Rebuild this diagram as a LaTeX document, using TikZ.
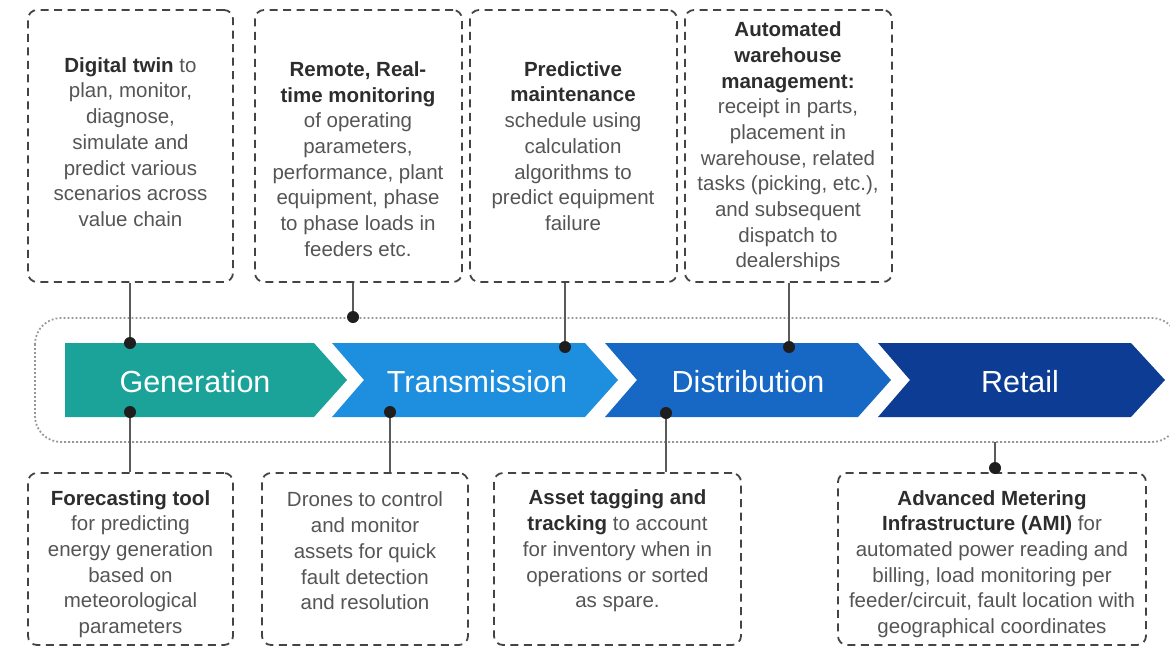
\documentclass[tikz,border=0pt]{standalone}
\usepackage{fontspec}
\setmainfont{Liberation Sans}
\definecolor{genc}{RGB}{27,163,154}
\definecolor{trac}{RGB}{30,142,222}
\definecolor{disc}{RGB}{22,104,196}
\definecolor{retc}{RGB}{12,60,148}
\definecolor{boxc}{RGB}{68,68,68}
\definecolor{bodyc}{RGB}{85,85,85}
\definecolor{boldc}{RGB}{45,45,45}
\definecolor{outc}{RGB}{150,150,150}
\definecolor{dotc}{RGB}{30,30,30}
\definecolor{linec}{RGB}{90,90,90}
\newcommand\hb[1]{\textcolor{boldc}{\textbf{#1}}}
\tikzset{
  dbox/.style={draw=boxc, line width=1.8pt, dash pattern=on 8pt off 5.5pt, rounded corners=9pt, inner sep=0pt},
  txt/.style={align=center, text=bodyc, inner sep=0pt, font=\fontsize{20.5}{25.7}\selectfont},
  outer/.style={draw=outc, line width=1.8pt, dash pattern=on 1.8pt off 2.2pt, rounded corners=26pt},
  chevlabel/.style={text=white, inner sep=0pt, font=\fontsize{30.5}{36}\selectfont},
  dot/.style={circle, fill=dotc, minimum size=12pt, inner sep=0pt},
  conn/.style={draw=linec, line width=1.4pt},
}
\begin{document}
\begin{tikzpicture}[x=1pt,y=-1pt]
\useasboundingbox (0,0) rectangle (1170,648);
% outer dotted band
\draw[outer] (35,318) rectangle (1178,442);
% chevrons
\fill[genc] (65,343) -- (314,343) -- (347,380) -- (314,417) -- (65,417) -- cycle;
\fill[trac] (332,343) -- (585,343) -- (618,380) -- (585,417) -- (332,417) -- (364,380) -- cycle;
\fill[disc] (605,343) -- (858,343) -- (891,380) -- (858,417) -- (605,417) -- (637,380) -- cycle;
\fill[retc] (878,343) -- (1131,343) -- (1165,380) -- (1131,417) -- (878,417) -- (910,380) -- cycle;
\node[chevlabel] (gen) at (195,382) {Generation};
\node[chevlabel] (tra) at (477,382) {Transmission};
\node[chevlabel] (dis) at (748,382) {Distribution};
\node[chevlabel] (ret) at (1020,382) {Retail};
% top boxes
\node[dbox, minimum width=205pt, minimum height=272pt] (T1) at (130.5,146) {};
\node[dbox, minimum width=207pt, minimum height=272pt] (T2) at (358.5,146) {};
\node[dbox, minimum width=207pt, minimum height=272pt] (T3) at (573.5,146) {};
\node[dbox, minimum width=207pt, minimum height=272pt] (T4) at (788.5,146) {};
% bottom boxes
\node[dbox, minimum width=205pt, minimum height=172pt] (B1) at (130.5,559) {};
\node[dbox, minimum width=206pt, minimum height=172pt] (B2) at (365,559) {};
\node[dbox, minimum width=247pt, minimum height=172pt] (B3) at (617.5,559) {};
\node[dbox, minimum width=308pt, minimum height=172pt] (B4) at (992,559) {};
% texts
\node[txt] (t1) at (130.5,142) {\hb{Digital twin} to\\plan, monitor,\\diagnose,\\simulate and\\predict various\\scenarios across\\value chain};
\node[txt] (t2) at (358,159) {\hb{Remote, Real-}\\\hb{time monitoring}\\of operating\\parameters,\\performance, plant\\equipment, phase\\to phase loads in\\feeders etc.};
\node[txt] (t3) at (573,146) {\hb{Predictive}\\\hb{maintenance}\\schedule using\\calculation\\algorithms to\\predict equipment\\failure};
\node[txt] (t4) at (788,147) {\hb{Automated}\\\hb{warehouse}\\\hb{management:}\\receipt in parts,\\placement in\\warehouse, related\\tasks (picking, etc.),\\and subsequent\\dispatch to\\dealerships};
\node[txt] (b1) at (130.5,564) {\hb{Forecasting tool}\\for predicting\\energy generation\\based on\\meteorological\\parameters};
\node[txt] (b2) at (365,551) {Drones to control\\and monitor\\assets for quick\\fault detection\\and resolution};
\node[txt] (b3) at (617.5,551) {\hb{Asset tagging and}\\\hb{tracking} to account\\for inventory when in\\operations or sorted\\as spare.};
\node[txt] (b4) at (992,564) {\hb{Advanced Metering}\\\hb{Infrastructure (AMI)} for\\automated power reading and\\billing, load monitoring per\\feeder/circuit, fault location with\\geographical coordinates};
% dots
\node[dot] (d1) at (130,343) {};
\node[dot] (d2) at (353,317) {};
\node[dot] (d3) at (565,347) {};
\node[dot] (d4) at (789,347) {};
\node[dot] (d5) at (130,412) {};
\node[dot] (d6) at (390,412) {};
\node[dot] (d7) at (666,413) {};
\node[dot] (d8) at (995,468) {};
\coordinate (r0) at (995,442);
% connectors
\draw[conn] (T1.south -| d1) -- (d1);
\draw[conn] (T2.south -| d2) -- (d2);
\draw[conn] (T3.south -| d3) -- (d3);
\draw[conn] (T4.south -| d4) -- (d4);
\draw[conn] (d5) -- (B1.north -| d5);
\draw[conn] (d6) -- (B2.north -| d6);
\draw[conn] (d7) -- (B3.north -| d7);
\draw[conn] (r0) -- (d8);
\end{tikzpicture}
\end{document}
